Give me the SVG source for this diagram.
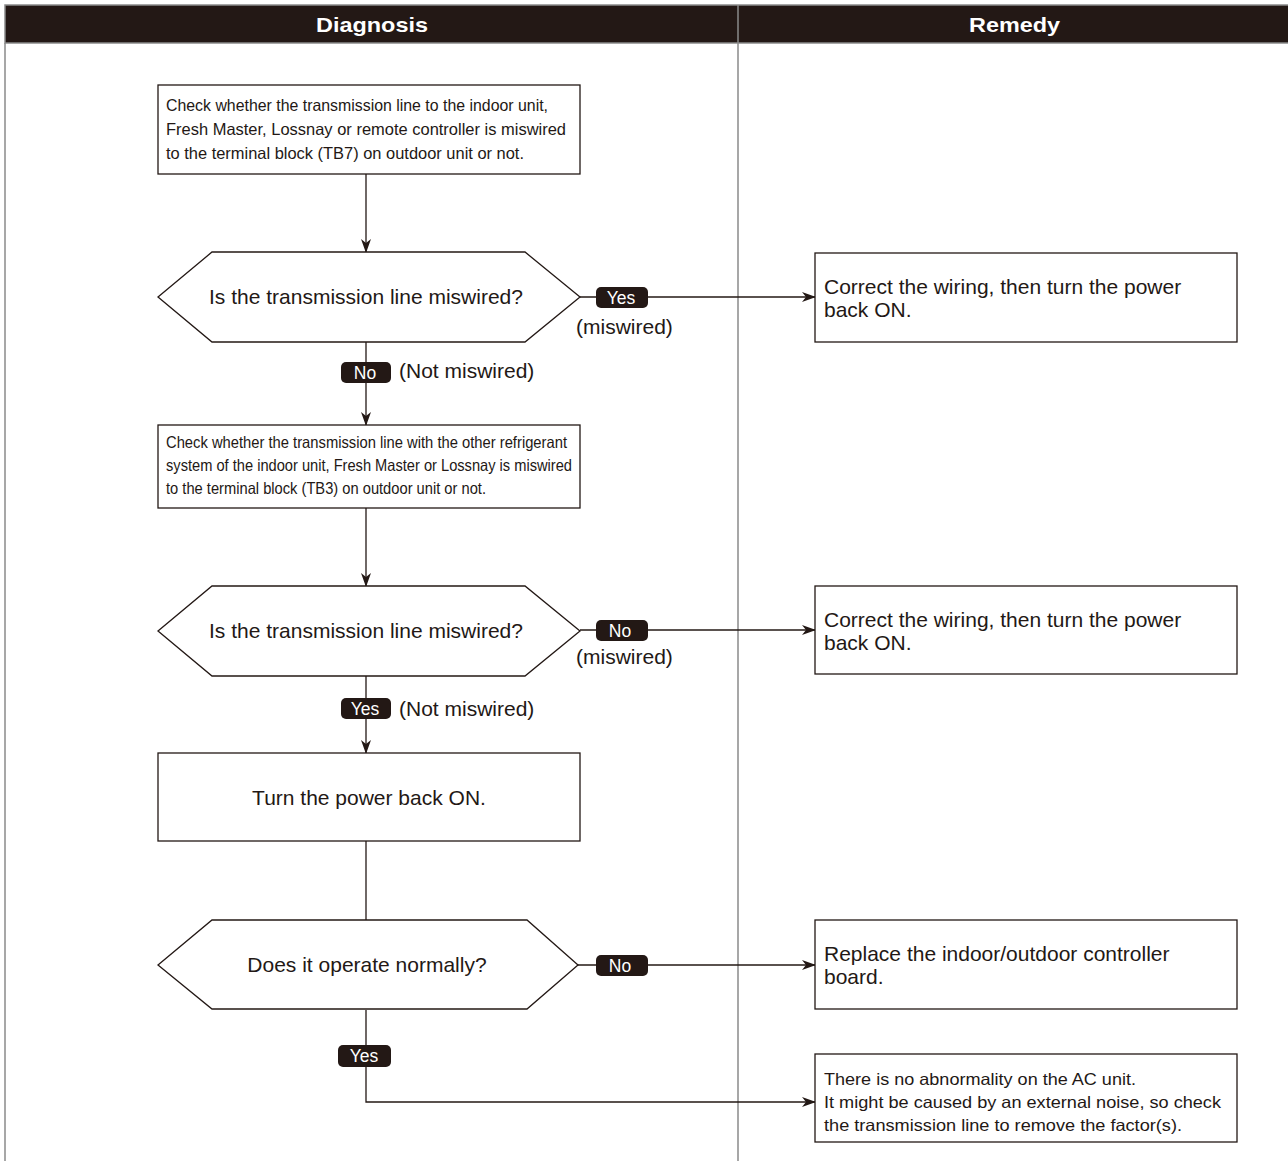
<svg xmlns="http://www.w3.org/2000/svg" width="1288" height="1161" viewBox="0 0 1288 1161">
<defs>
<style>
.box{fill:#fff;stroke:#231815;stroke-width:1.3}
.ln{fill:none;stroke:#231815;stroke-width:1.3}
.t{font-family:"Liberation Sans",Arial,sans-serif;fill:#231815}
.s{font-size:16.5px}
.m{font-size:21px}
.badge{fill:#231815}
.bt{font-family:"Liberation Sans",Arial,sans-serif;font-size:17.5px;fill:#fff;text-anchor:middle}
.hd{font-family:"Liberation Sans",Arial,sans-serif;font-size:21px;font-weight:bold;fill:#fff}
</style>
<marker id="arr" markerWidth="14" markerHeight="10" refX="13" refY="5" orient="auto" markerUnits="userSpaceOnUse">
<path d="M0,0 L14,5 L0,10 L4,5 Z" fill="#231815"/>
</marker>
</defs>
<rect width="1288" height="1161" fill="#fff"/>
<g id="frame">
<rect x="5" y="5" width="1290" height="38" fill="#231815" stroke="#8a8a8a" stroke-width="1.5"/>
<line x1="5" y1="43" x2="5" y2="1161" stroke="#8a8a8a" stroke-width="1.5"/>
<line x1="738" y1="5" x2="738" y2="1161" stroke="#8a8a8a" stroke-width="1.5"/>
<text class="hd" x="316" y="32" textLength="112" lengthAdjust="spacingAndGlyphs">Diagnosis</text>
<text class="hd" x="969" y="32" textLength="91" lengthAdjust="spacingAndGlyphs">Remedy</text>
</g>
<g id="connectors">
<line class="ln" x1="366" y1="174" x2="366" y2="252" marker-end="url(#arr)"/>
<line class="ln" x1="580" y1="297" x2="815" y2="297" marker-end="url(#arr)"/>
<line class="ln" x1="366" y1="342" x2="366" y2="425" marker-end="url(#arr)"/>
<line class="ln" x1="366" y1="508" x2="366" y2="586" marker-end="url(#arr)"/>
<line class="ln" x1="580" y1="630" x2="815" y2="630" marker-end="url(#arr)"/>
<line class="ln" x1="366" y1="676" x2="366" y2="753" marker-end="url(#arr)"/>
<line class="ln" x1="366" y1="841" x2="366" y2="920"/>
<line class="ln" x1="578" y1="965" x2="815" y2="965" marker-end="url(#arr)"/>
<polyline class="ln" points="366,1010 366,1102 815,1102" marker-end="url(#arr)"/>
<g id="labels">
<rect class="badge" x="596" y="287" width="52" height="21" rx="5"/>
<text class="bt" x="621" y="304">Yes</text>
<text class="t m" x="576" y="334">(miswired)</text>
<rect class="badge" x="341" y="362" width="50" height="21" rx="5"/>
<text class="bt" x="365" y="379">No</text>
<text class="t m" x="399" y="378">(Not miswired)</text>
<rect class="badge" x="596" y="620" width="52" height="21" rx="5"/>
<text class="bt" x="620" y="637">No</text>
<text class="t m" x="576" y="664">(miswired)</text>
<rect class="badge" x="341" y="698" width="50" height="21" rx="5"/>
<text class="bt" x="365" y="715">Yes</text>
<text class="t m" x="399" y="716">(Not miswired)</text>
<rect class="badge" x="596" y="955" width="52" height="21" rx="5"/>
<text class="bt" x="620" y="972">No</text>
<rect class="badge" x="338" y="1045" width="53" height="22" rx="5"/>
<text class="bt" x="364" y="1062">Yes</text>
</g>
</g>
<g id="n1">
<rect class="box" x="158" y="85" width="422" height="89"/>
<text class="t s" x="166" y="111" textLength="382" lengthAdjust="spacingAndGlyphs">Check whether the transmission line to the indoor unit,</text>
<text class="t s" x="166" y="135" textLength="400" lengthAdjust="spacingAndGlyphs">Fresh Master, Lossnay or remote controller is miswired</text>
<text class="t s" x="166" y="159" textLength="358" lengthAdjust="spacingAndGlyphs">to the terminal block (TB7) on outdoor unit or not.</text>
</g>
<g id="d1">
<polygon class="box" points="158,297 212,252 525,252 580,297 525,342 212,342"/>
<text class="t m" x="366" y="304" text-anchor="middle">Is the transmission line miswired?</text>
</g>
<g id="r1">
<rect class="box" x="815" y="253" width="422" height="89"/>
<text class="t m" x="824" y="294">Correct the wiring, then turn the power</text>
<text class="t m" x="824" y="317">back ON.</text>
</g>
<g id="n2">
<rect class="box" x="158" y="425" width="422" height="83"/>
<text class="t s" x="166" y="448" textLength="401" lengthAdjust="spacingAndGlyphs">Check whether the transmission line with the other refrigerant</text>
<text class="t s" x="166" y="471" textLength="406" lengthAdjust="spacingAndGlyphs">system of the indoor unit, Fresh Master or Lossnay is miswired</text>
<text class="t s" x="166" y="494" textLength="320" lengthAdjust="spacingAndGlyphs">to the terminal block (TB3) on outdoor unit or not.</text>
</g>
<g id="d2">
<polygon class="box" points="158,631 212,586 525,586 580,631 525,676 212,676"/>
<text class="t m" x="366" y="638" text-anchor="middle">Is the transmission line miswired?</text>
</g>
<g id="r2">
<rect class="box" x="815" y="586" width="422" height="88"/>
<text class="t m" x="824" y="627">Correct the wiring, then turn the power</text>
<text class="t m" x="824" y="650">back ON.</text>
</g>
<g id="n3">
<rect class="box" x="158" y="753" width="422" height="88"/>
<text class="t m" x="369" y="805" text-anchor="middle">Turn the power back ON.</text>
</g>
<g id="d3">
<polygon class="box" points="158,965 212,920 527,920 578,965 527,1009 212,1009"/>
<text class="t m" x="367" y="972" text-anchor="middle">Does it operate normally?</text>
</g>
<g id="r3">
<rect class="box" x="815" y="920" width="422" height="89"/>
<text class="t m" x="824" y="961">Replace the indoor/outdoor controller</text>
<text class="t m" x="824" y="984">board.</text>
</g>
<g id="r4">
<rect class="box" x="815" y="1054" width="422" height="88"/>
<text class="t s" x="824" y="1085" textLength="312" lengthAdjust="spacingAndGlyphs">There is no abnormality on the AC unit.</text>
<text class="t s" x="824" y="1108" textLength="397" lengthAdjust="spacingAndGlyphs">It might be caused by an external noise, so check</text>
<text class="t s" x="824" y="1131" textLength="358" lengthAdjust="spacingAndGlyphs">the transmission line to remove the factor(s).</text>
</g>
</svg>
